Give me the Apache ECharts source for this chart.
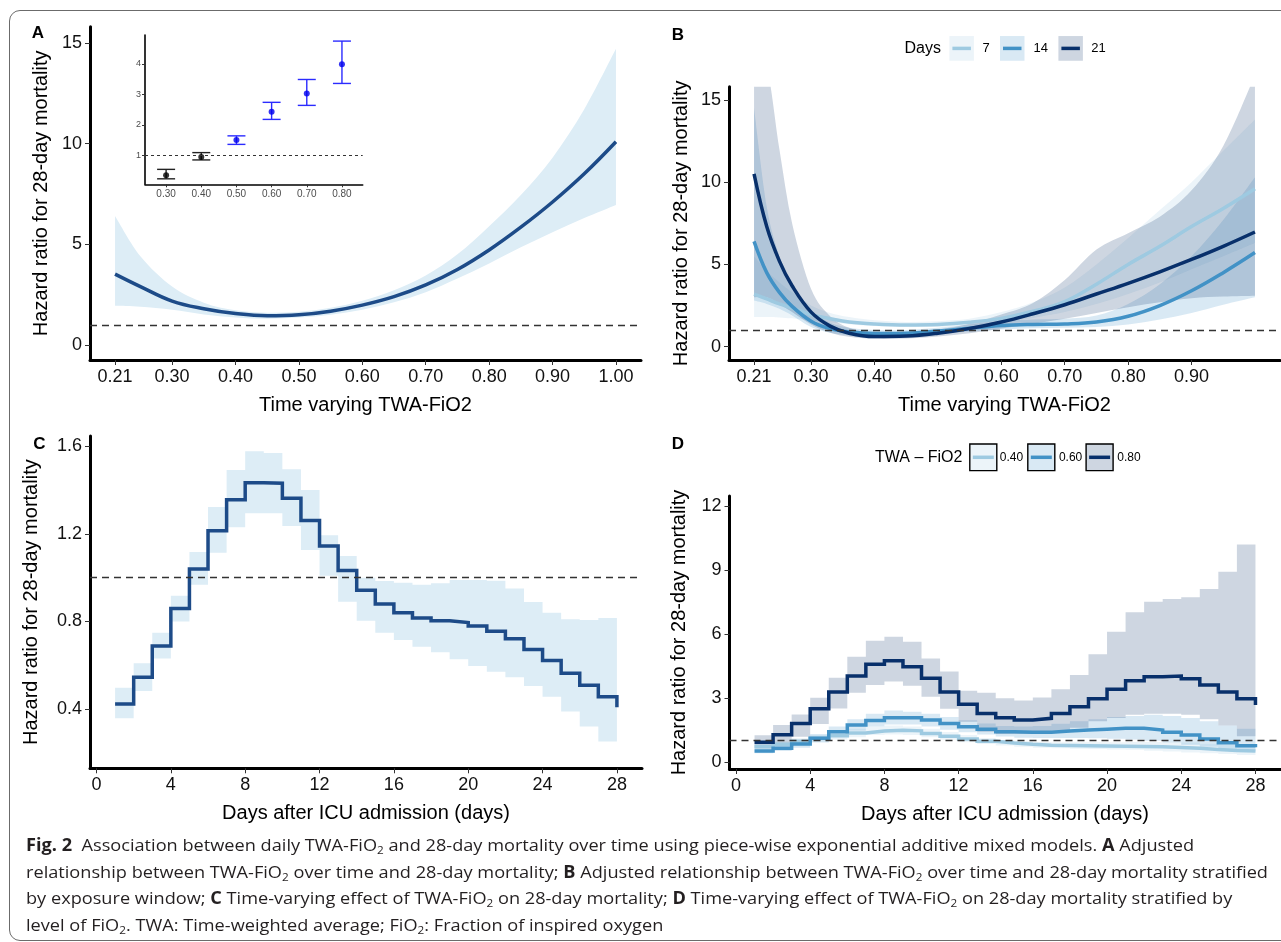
<!DOCTYPE html>
<html>
<head>
<meta charset="utf-8">
<script src="https://cdn.jsdelivr.net/npm/echarts@6/dist/echarts.min.js"></script>
<style>
html, body { margin: 0; padding: 0; background: #fff; overflow: hidden; }
#frame { position: absolute; left: 9px; top: 10px; width: 1320px; height: 929px; border: 1px solid #6b6b6b; border-radius: 11px; }
#chart { position: absolute; left: 0; top: 0; width: 1281px; height: 942px; }
#caption { position: absolute; left: 26px; top: 832px; font-family: 'Open Sans', 'Noto Sans', sans-serif; font-size: 17px; line-height: 26.7px; color: #231f20; }
#caption span.l { display: inline-block; white-space: nowrap; transform-origin: 0 50%; }
#caption sub { font-size: 11px; vertical-align: -3px; line-height: 0; }
</style>
</head>
<body>
<div id="frame"></div>
<div id="chart"></div>
<div id="caption">
  <div><span class="l"><b>Fig. 2</b>&nbsp; Association between daily TWA-FiO<sub>2</sub> and 28-day mortality over time using piece-wise exponential additive mixed models. <b>A</b> Adjusted</span></div>
  <div><span class="l">relationship between TWA-FiO<sub>2</sub> over time and 28-day mortality; <b>B</b> Adjusted relationship between TWA-FiO<sub>2</sub> over time and 28-day mortality stratified</span></div>
  <div><span class="l">by exposure window; <b>C</b> Time-varying effect of TWA-FiO<sub>2</sub> on 28-day mortality; <b>D</b> Time-varying effect of TWA-FiO<sub>2</sub> on 28-day mortality stratified by</span></div>
  <div><span class="l">level of FiO<sub>2</sub>. TWA: Time-weighted average; FiO<sub>2</sub>: Fraction of inspired oxygen</span></div>
</div>
<script>
// ---- panel A: adjusted hazard ratio over TWA-FiO2
const aX = [0.21, 0.25, 0.30, 0.35, 0.40, 0.45, 0.50, 0.55, 0.60, 0.65, 0.70, 0.75, 0.80, 0.85, 0.90, 0.95, 1.00];
const aFit = [3.52, 2.9, 2.18, 1.8, 1.56, 1.45, 1.5, 1.68, 1.98, 2.4, 2.98, 3.75, 4.72, 5.85, 7.1, 8.5, 10.09];
const aLo = [1.95, 1.9, 1.75, 1.52, 1.37, 1.3, 1.36, 1.5, 1.75, 2.12, 2.62, 3.3, 4.05, 4.85, 5.6, 6.3, 6.95];
const aHi = [6.4, 4.4, 2.9, 2.1, 1.72, 1.6, 1.65, 1.85, 2.2, 2.72, 3.45, 4.5, 5.9, 7.45, 9.3, 11.7, 14.7];

// ---- inset of A: HR by FiO2 level
const insetX = [0.30, 0.40, 0.50, 0.60, 0.70, 0.80];
const insetHR = [0.35, 0.95, 1.5, 2.43, 3.03, 3.99];
const insetLo = [0.23, 0.85, 1.36, 2.18, 2.64, 3.36];
const insetHi = [0.54, 1.09, 1.64, 2.74, 3.49, 4.75];

// ---- panel B: by exposure window (days)
const bDays = ['7', '14', '21'];
const bX = [0.21, 0.23, 0.25, 0.27, 0.30, 0.33, 0.36, 0.40, 0.45, 0.50, 0.55, 0.60, 0.65, 0.70, 0.75, 0.80, 0.85, 0.90, 0.95, 1.00];
const b7 = [3.2, 2.9, 2.6, 2.35, 1.95, 1.7, 1.5, 1.38, 1.32, 1.35, 1.48, 1.72, 2.15, 2.74, 3.8, 5.0, 6.1, 7.3, 8.4, 9.6];
const b14 = [6.4, 4.5, 3.3, 2.45, 1.55, 1.1, 0.9, 0.8, 0.82, 0.95, 1.12, 1.28, 1.35, 1.38, 1.5, 1.85, 2.5, 3.4, 4.5, 5.72];
const b21 = [10.5, 7.3, 5.2, 3.7, 2.1, 1.25, 0.82, 0.62, 0.65, 0.82, 1.1, 1.5, 2.0, 2.55, 3.2, 3.85, 4.55, 5.3, 6.1, 6.97];
const b7Lo = [1.8, 1.8, 1.78, 1.72, 1.6, 1.48, 1.36, 1.25, 1.2, 1.2, 1.3, 1.45, 1.75, 2.1, 2.6, 3.2, 3.9, 4.7, 5.5, 6.3];
const b7Hi = [5.5, 4.6, 3.9, 3.3, 2.5, 2.05, 1.8, 1.6, 1.5, 1.55, 1.7, 2.1, 2.7, 3.6, 5.0, 6.6, 8.3, 10.0, 11.9, 13.8];
const b14Lo = [2.8, 2.6, 2.3, 1.9, 1.2, 0.85, 0.7, 0.62, 0.66, 0.78, 0.92, 1.05, 1.12, 1.15, 1.2, 1.35, 1.65, 2.05, 2.55, 3.0];
const b14Hi = [14.5, 8.5, 5.5, 3.8, 2.2, 1.45, 1.15, 1.02, 1.02, 1.15, 1.35, 1.55, 1.65, 1.7, 1.9, 2.6, 3.8, 5.5, 7.7, 10.3];
const b21Lo = [3.0, 3.0, 2.6, 2.1, 1.35, 0.85, 0.6, 0.48, 0.5, 0.62, 0.82, 1.1, 1.4, 1.7, 2.05, 2.4, 2.7, 2.95, 3.05, 3.1];
const b21Hi = [17, 17, 12, 7.5, 3.5, 1.85, 1.15, 0.82, 0.85, 1.05, 1.4, 1.95, 2.65, 4.05, 5.9, 6.9, 7.9, 9.5, 12.2, 16.5];

// ---- panel C: time-varying effect (value on [day, day+1); last entry is the end at day 28)
const cDays = [1, 2, 3, 4, 5, 6, 7, 8, 9, 10, 11, 12, 13, 14, 15, 16, 17, 18, 19, 20, 21, 22, 23, 24, 25, 26, 27, 28];
const cHR = [0.424, 0.546, 0.689, 0.859, 1.039, 1.214, 1.355, 1.433, 1.430, 1.362, 1.261, 1.144, 1.032, 0.942, 0.88, 0.84, 0.816, 0.804, 0.795, 0.78, 0.756, 0.722, 0.673, 0.622, 0.564, 0.509, 0.457, 0.409];
const cLo = [0.359, 0.483, 0.632, 0.80, 0.968, 1.114, 1.23, 1.293, 1.293, 1.235, 1.126, 1.009, 0.89, 0.804, 0.749, 0.716, 0.685, 0.66, 0.628, 0.597, 0.571, 0.546, 0.506, 0.457, 0.39, 0.321, 0.253];
const cHi = [0.498, 0.61, 0.749, 0.918, 1.117, 1.322, 1.491, 1.576, 1.568, 1.494, 1.40, 1.193, 1.099, 0.999, 0.985, 0.977, 0.968, 0.974, 0.989, 0.989, 0.986, 0.95, 0.889, 0.84, 0.81, 0.807, 0.816];

// ---- panel D: by TWA-FiO2 level
const dLevels = ['0.40', '0.60', '0.80'];
const d40 = [0.72, 0.82, 0.96, 1.1, 1.22, 1.35, 1.44, 1.48, 1.45, 1.33, 1.2, 1.07, 0.96, 0.88, 0.82, 0.78, 0.76, 0.75, 0.74, 0.73, 0.72, 0.7, 0.67, 0.63, 0.58, 0.53, 0.5, 0.47];
const d60 = [0.5, 0.63, 0.83, 1.1, 1.41, 1.72, 1.93, 2.07, 2.07, 1.96, 1.8, 1.64, 1.52, 1.41, 1.38, 1.38, 1.44, 1.49, 1.53, 1.57, 1.57, 1.49, 1.38, 1.25, 1.07, 0.89, 0.75, 0.68];
const d80 = [0.91, 1.27, 1.8, 2.49, 3.27, 4.02, 4.57, 4.74, 4.46, 3.92, 3.27, 2.7, 2.27, 2.07, 1.96, 2.04, 2.27, 2.58, 2.96, 3.4, 3.8, 3.99, 4.02, 3.9, 3.6, 3.27, 2.96, 2.66];
const d40Lo = [0.6, 0.7, 0.83, 0.95, 1.05, 1.15, 1.25, 1.28, 1.25, 1.15, 1.03, 0.92, 0.83, 0.76, 0.7, 0.66, 0.63, 0.61, 0.6, 0.58, 0.56, 0.52, 0.48, 0.44, 0.4, 0.36, 0.32];
const d40Hi = [0.85, 0.95, 1.1, 1.25, 1.4, 1.55, 1.65, 1.7, 1.65, 1.55, 1.4, 1.25, 1.12, 1.02, 0.96, 0.93, 0.92, 0.92, 0.92, 0.92, 0.93, 0.93, 0.92, 0.9, 0.85, 0.8, 0.75];
const d60Lo = [0.4, 0.5, 0.66, 0.9, 1.18, 1.45, 1.65, 1.75, 1.75, 1.65, 1.5, 1.38, 1.28, 1.18, 1.13, 1.12, 1.12, 1.12, 1.1, 1.08, 1.05, 0.98, 0.9, 0.8, 0.7, 0.58, 0.48];
const d60Hi = [0.65, 0.78, 1.0, 1.3, 1.65, 2.0, 2.25, 2.4, 2.35, 2.25, 2.1, 1.95, 1.8, 1.68, 1.65, 1.68, 1.78, 1.9, 2.0, 2.1, 2.15, 2.2, 2.15, 2.05, 1.9, 1.7, 1.55];
const d80Lo = [0.63, 0.78, 1.17, 1.77, 2.5, 3.24, 3.6, 3.76, 3.57, 3.05, 2.49, 1.88, 1.41, 1.3, 1.3, 1.35, 1.45, 1.6, 1.9, 2.05, 2.2, 2.25, 2.25, 2.2, 2.0, 1.7, 1.2];
const d80Hi = [1.24, 1.72, 2.22, 3.0, 3.94, 4.93, 5.68, 5.87, 5.63, 4.85, 4.23, 3.33, 3.24, 2.98, 2.87, 3.02, 3.4, 4.07, 5.04, 6.1, 7.01, 7.51, 7.64, 7.72, 8.11, 8.92, 10.2];

// ---- tick labels
const aTicksX = [0.21, 0.30, 0.40, 0.50, 0.60, 0.70, 0.80, 0.90, 1.00];
const aTicksY = [0, 5, 10, 15];
const insetTicksY = [1, 2, 3, 4];
const bTicksX = [0.21, 0.30, 0.40, 0.50, 0.60, 0.70, 0.80, 0.90];
const bTicksY = [0, 5, 10, 15];
const cTicksX = [0, 4, 8, 12, 16, 20, 24, 28];
const cTicksY = [0.4, 0.8, 1.2, 1.6];
const dTicksX = [0, 4, 8, 12, 16, 20, 24, 28];
const dTicksY = [0, 3, 6, 9, 12];

const FONT = "'Liberation Sans', Arial, Helvetica, sans-serif";
const mainBlue = '#1d4b88';
const mainBand = '#ddedf6';
const pal = ['#9ecae1', '#4292c6', '#08306b'];
const palBand = ['rgba(158,202,225,0.2)', 'rgba(66,146,198,0.2)', 'rgba(8,48,107,0.2)'];
const palBox = ['#ecf4f9', '#d9e9f4', '#ced6e1'];

const fmt2 = v => v.toFixed(2);
const fmt1 = v => v.toFixed(1);
const fmt0 = v => String(Math.round(v));

function axis(o) {
    return {
        type: 'value', gridIndex: o.grid, min: o.min, max: o.max,
        name: o.name || '', nameLocation: 'middle', nameGap: o.gap || 0,
        nameTextStyle: { fontSize: 20, color: '#000', fontFamily: FONT },
        axisLine: { show: true, onZero: false, lineStyle: { color: '#000', width: o.lw || 3 } },
        axisTick: { show: true, customValues: o.ticks, length: o.tl || 5, lineStyle: { color: '#333', width: 1 } },
        axisLabel: { customValues: o.ticks, formatter: o.fmt, fontSize: o.fs || 18, color: o.lc || '#111', margin: o.margin || 8, fontFamily: FONT },
        splitLine: { show: false }
    };
}

// catmull-rom through screen points -> bezier path
function curvePath(pts, cmd) {
    let d = cmd + pts[0][0] + ' ' + pts[0][1];
    for (let i = 0; i < pts.length - 1; i++) {
        const p0 = pts[i - 1] || pts[i], p1 = pts[i], p2 = pts[i + 1], p3 = pts[i + 2] || p2;
        const c1 = [p1[0] + (p2[0] - p0[0]) / 6, p1[1] + (p2[1] - p0[1]) / 6];
        const c2 = [p2[0] - (p3[0] - p1[0]) / 6, p2[1] - (p3[1] - p1[1]) / 6];
        d += ' C' + c1[0] + ' ' + c1[1] + ' ' + c2[0] + ' ' + c2[1] + ' ' + p2[0] + ' ' + p2[1];
    }
    return d;
}

function smoothBand(xs, lo, hi, gi, color) {
    return {
        type: 'custom', xAxisIndex: gi, yAxisIndex: gi, clip: true, silent: true, z: 1,
        data: xs.map((x, i) => [x, lo[i], hi[i]]),
        renderItem: (params, api) => {
            if (params.dataIndex !== 0) return null;
            const up = xs.map((x, i) => api.coord([x, hi[i]]));
            const dn = xs.map((x, i) => api.coord([x, lo[i]])).reverse();
            return { type: 'path', shape: { pathData: curvePath(up, 'M') + ' ' + curvePath(dn, 'L') + ' Z' }, style: { fill: color } };
        }
    };
}

function stepBand(days, lo, hi, gi, color) {
    return {
        type: 'custom', xAxisIndex: gi, yAxisIndex: gi, clip: true, silent: true, z: 1,
        data: lo.map((v, i) => [days[i], v, hi[i]]),
        renderItem: (params, api) => {
            if (params.dataIndex !== 0) return null;
            const up = [], dn = [];
            lo.forEach((v, i) => {
                up.push(api.coord([days[i], hi[i]]), api.coord([days[i] + 1, hi[i]]));
                dn.push(api.coord([days[i], v]), api.coord([days[i] + 1, v]));
            });
            return { type: 'polygon', shape: { points: up.concat(dn.reverse()) }, style: { fill: color } };
        }
    };
}

const refLine = {
    silent: true, symbol: 'none', label: { show: false },
    lineStyle: { type: [7, 5], color: '#333', width: 1.4 },
    data: [{ yAxis: 1 }]
};

function curve(xs, ys, gi, color, opts) {
    return Object.assign({
        type: 'line', xAxisIndex: gi, yAxisIndex: gi, z: 3, silent: true,
        data: xs.map((x, i) => [x, ys[i]]),
        symbol: 'none', smooth: 0.4,
        lineStyle: { color: color, width: 3.5 }
    }, opts || {});
}

function stepLine(days, ys, gi, color, opts) {
    return Object.assign({
        type: 'line', xAxisIndex: gi, yAxisIndex: gi, z: 3, silent: true,
        data: days.map((d, i) => [d, ys[i]]),
        symbol: 'none', step: 'end',
        lineStyle: { color: color, width: 3.5, join: 'miter' }
    }, opts || {});
}

function txt(text, x, y, size, align, bold) {
    return {
        type: 'text', silent: true, z: 10,
        style: {
            text: text, x: x, y: y, fill: '#000',
            font: (bold ? 'bold ' : '') + size + 'px ' + FONT,
            align: align, verticalAlign: 'middle', textAlign: align, textVerticalAlign: 'middle'
        }
    };
}

function legend(title, titleRight, cy, boxLefts, boxW, boxH, labels, labelCx, fills, bordered, labelSize) {
    const els = [txt(title, titleRight, cy, 16, 'right')];
    labels.forEach((lab, i) => {
        els.push({ type: 'rect', silent: true, z: 10, shape: { x: boxLefts[i], y: cy - boxH / 2, width: boxW, height: boxH },
            style: { fill: fills[i], stroke: bordered ? '#000' : null, lineWidth: bordered ? 1.4 : 0 } });
        els.push({ type: 'line', silent: true, z: 11, shape: { x1: boxLefts[i] + 3, y1: cy, x2: boxLefts[i] + boxW - 3, y2: cy },
            style: { stroke: pal[i], lineWidth: 3.5 } });
        els.push(txt(lab, labelCx[i], cy, labelSize, 'center'));
    });
    return els;
}

const chart = echarts.init(document.getElementById('chart'));

const option = {
    animation: false,
    backgroundColor: 'transparent',
    textStyle: { fontFamily: FONT },
    grid: [
        { left: 90, top: 26.7, width: 551, height: 333.3 },
        { left: 145, top: 35, width: 217.7, height: 149.3 },
        { left: 729, top: 86.7, width: 551, height: 273.3 },
        { left: 90, top: 436, width: 552, height: 332.3 },
        { left: 729.5, top: 496, width: 551, height: 273 }
    ],
    xAxis: [
        axis({ grid: 0, min: 0.1705, max: 1.0395, ticks: aTicksX, fmt: fmt2, name: 'Time varying TWA-FiO2', gap: 35 }),
        axis({ grid: 1, min: 0.24, max: 0.859, ticks: insetX, fmt: fmt2, lw: 1.6, tl: 3, fs: 10, lc: '#4d4d4d', margin: 5 }),
        axis({ grid: 2, min: 0.1705, max: 1.0395, ticks: bTicksX, fmt: fmt2, name: 'Time varying TWA-FiO2', gap: 35 }),
        axis({ grid: 3, min: -0.35, max: 29.35, ticks: cTicksX, fmt: fmt0, name: 'Days after ICU admission (days)', gap: 35 }),
        axis({ grid: 4, min: -0.35, max: 29.35, ticks: dTicksX, fmt: fmt0, name: 'Days after ICU admission (days)', gap: 35 })
    ],
    yAxis: [
        axis({ grid: 0, min: -0.744, max: 15.8, ticks: aTicksY, fmt: fmt0, name: 'Hazard ratio for 28-day mortality', gap: 39 }),
        axis({ grid: 1, min: 0.05, max: 4.95, ticks: insetTicksY, fmt: fmt0, lw: 1.6, tl: 3, fs: 9, lc: '#4d4d4d', margin: 4 }),
        axis({ grid: 2, min: -0.81, max: 15.8, ticks: bTicksY, fmt: fmt0, name: 'Hazard ratio for 28-day mortality', gap: 38 }),
        axis({ grid: 3, min: 0.131, max: 1.6456, ticks: cTicksY, fmt: fmt1, name: 'Hazard ratio for 28-day mortality', gap: 49 }),
        axis({ grid: 4, min: -0.34, max: 12.47, ticks: dTicksY, fmt: fmt0, name: 'Hazard ratio for 28-day mortality', gap: 40 })
    ],
    series: [
        // A
        smoothBand(aX, aLo, aHi, 0, mainBand),
        curve(aX, aFit, 0, mainBlue, { markLine: refLine }),
        // inset
        {
            type: 'custom', xAxisIndex: 1, yAxisIndex: 1, silent: true, z: 3,
            data: insetX.map((x, i) => [x, insetLo[i], insetHi[i]]),
            encode: { x: 0, y: [1, 2] },
            renderItem: (params, api) => {
                const x = api.value(0);
                const lo = api.coord([x, api.value(1)]);
                const hi = api.coord([x, api.value(2)]);
                const col = api.value(1) > 1 ? '#2b2bff' : '#222';
                const st = { stroke: col, lineWidth: 1.4 };
                return { type: 'group', children: [
                    { type: 'line', shape: { x1: lo[0], y1: lo[1], x2: hi[0], y2: hi[1] }, style: st },
                    { type: 'line', shape: { x1: lo[0] - 9, y1: lo[1], x2: lo[0] + 9, y2: lo[1] }, style: st },
                    { type: 'line', shape: { x1: hi[0] - 9, y1: hi[1], x2: hi[0] + 9, y2: hi[1] }, style: st }
                ] };
            },
            markLine: Object.assign({}, refLine, { lineStyle: { type: [3, 3], color: '#333', width: 1 } })
        },
        {
            type: 'scatter', xAxisIndex: 1, yAxisIndex: 1, silent: true, z: 4,
            data: insetX.map((x, i) => [x, insetHR[i], insetLo[i]]),
            symbolSize: 6,
            itemStyle: { color: p => p.value[2] > 1 ? '#0000ee' : '#000' }
        },
        // B
        smoothBand(bX, b7Lo, b7Hi, 2, palBand[0]),
        smoothBand(bX, b14Lo, b14Hi, 2, palBand[1]),
        smoothBand(bX, b21Lo, b21Hi, 2, palBand[2]),
        curve(bX, b7, 2, pal[0], { markLine: refLine }),
        curve(bX, b14, 2, pal[1]),
        curve(bX, b21, 2, pal[2]),
        // C
        stepBand(cDays, cLo, cHi, 3, mainBand),
        stepLine(cDays, cHR, 3, mainBlue, { markLine: refLine }),
        // D
        stepBand(cDays, d40Lo, d40Hi, 4, palBand[0]),
        stepBand(cDays, d60Lo, d60Hi, 4, palBand[1]),
        stepBand(cDays, d80Lo, d80Hi, 4, palBand[2]),
        stepLine(cDays, d40, 4, pal[0], { markLine: refLine }),
        stepLine(cDays, d60, 4, pal[1]),
        stepLine(cDays, d80, 4, pal[2])
    ],
    graphic: [
        txt('A', 38, 33.5, 17, 'center', true),
        txt('B', 678, 35.5, 17, 'center', true),
        txt('C', 39.5, 444.5, 17, 'center', true),
        txt('D', 678, 444, 17, 'center', true)
    ].concat(
        legend('Days', 941, 48.4, [949.4, 1000, 1058.4], 24.5, 24.7, bDays, [986, 1040.8, 1098.4], palBox, false, 13),
        legend('TWA \u2013 FiO2', 962.4, 457.3, [969.8, 1027.8, 1086.1], 27, 26.7, dLevels, [1011.4, 1070.6, 1129], palBox, true, 12)
    )
};

chart.setOption(option);

// fit caption lines to the printed width
const lines = document.querySelectorAll('#caption span.l');
const scale = (1268 - 26) / lines[1].getBoundingClientRect().width;
lines.forEach(l => { l.style.transform = 'scaleX(' + scale + ')'; });
</script>
</body>
</html>
